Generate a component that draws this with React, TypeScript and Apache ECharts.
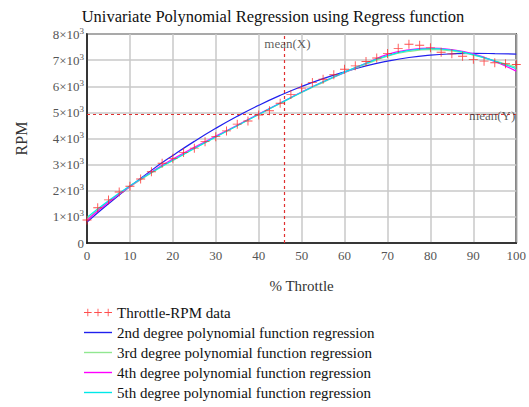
import React, { useEffect, useRef } from "react";
import * as echarts from "echarts";

const titleText = "Univariate Polynomial Regression using Regress function";
const xName = "% Throttle";
const yName = "RPM";

const dataX = [0, 2.5, 5, 7.5, 10, 12.5, 15, 17.5, 20, 22.5, 25, 27.5, 30, 32.5, 35, 37.5, 40, 42.5, 45, 47.5, 50, 52.5, 55, 57.5, 60, 62.5, 65, 67.5, 70, 72.5, 75, 77.5, 80, 82.5, 85, 87.5, 90, 92.5, 95, 97.5, 100];
const dataY = [880, 1350, 1650, 1950, 2170, 2450, 2730, 3050, 3240, 3460, 3630, 3880, 4070, 4290, 4550, 4670, 4900, 5060, 5350, 5680, 5930, 6140, 6270, 6440, 6650, 6780, 6950, 7080, 7250, 7450, 7610, 7570, 7470, 7300, 7240, 7150, 7030, 6960, 6900, 6860, 6830];

const curveX = [0, 5, 10, 15, 20, 25, 30, 35, 40, 45, 50, 55, 60, 65, 70, 75, 80, 85, 90, 95, 100];
const deg2 = [800, 1500, 2160, 2780, 3350, 3890, 4390, 4850, 5270, 5650, 5990, 6290, 6550, 6780, 6960, 7100, 7190, 7240, 7260, 7250, 7230];
const deg3 = [920, 1570, 2150, 2680, 3160, 3620, 4060, 4490, 4920, 5340, 5760, 6150, 6520, 6840, 7150, 7330, 7400, 7350, 7190, 6970, 6730];
const deg4 = [870, 1560, 2170, 2720, 3210, 3660, 4090, 4510, 4940, 5360, 5780, 6170, 6530, 6880, 7220, 7390, 7460, 7400, 7240, 6950, 6580];
const deg5 = [980, 1620, 2190, 2700, 3170, 3620, 4060, 4490, 4920, 5350, 5770, 6170, 6540, 6880, 7170, 7370, 7440, 7380, 7210, 6960, 6670];

const meanX = 46;
const meanY = 4930;

const seriesNames = [
  "Throttle-RPM data",
  "2nd degree polynomial function regression",
  "3rd degree polynomial function regression",
  "4th degree polynomial function regression",
  "5th degree polynomial function regression",
];
const colors = ["#ff2020", "#2020ee", "#90e890", "#ff00ff", "#00e8e8"];

const plus = "path://M4.5,0h1v4.5h4.5v1h-4.5v4.5h-1v-4.5h-4.5v-1h4.5z";
const plus3 =
  "path://M4,0h1v4h4v1h-4v4h-1v-4h-4v-1h4zM16,0h1v4h4v1h-4v4h-1v-4h-4v-1h4zM28,0h1v4h4v1h-4v4h-1v-4h-4v-1h4z";
const lineIcon = "path://M0,0h20v1h-20z";

const serif = "Liberation Serif";

export default function App() {
  const ref = useRef<HTMLDivElement>(null);
  useEffect(() => {
    if (!ref.current) return;
    const chart = echarts.init(ref.current, undefined, { renderer: "svg" });
    const zip = (xs: number[], ys: number[]) => xs.map((x, i) => [x, ys[i]]);
    const lineSeries = (name: string, ys: number[], color: string) => ({
      name,
      type: "line",
      data: zip(curveX, ys),
      smooth: true,
      showSymbol: false,
      symbol: "none",
      color,
      lineStyle: { color, width: 1.2 },
      itemStyle: { color },
      z: 3,
    });
    chart.setOption({
      animation: false,
      textStyle: { fontFamily: serif },
      title: {
        text: titleText,
        left: 268,
        textAlign: "center",
        top: 3,
        textStyle: { fontFamily: serif, fontSize: 16.5, fontWeight: "normal", color: "#111" },
      },
      grid: {
        left: 87,
        right: 11,
        top: 34,
        bottom: 164,
        show: true,
        borderColor: "#111",
        borderWidth: 1.5,
      },
      legend: {
        orient: "vertical",
        left: 84,
        top: 305,
        padding: 0,
        height: 110,
        itemWidth: 28,
        itemHeight: 10,
        itemGap: 5,
        textStyle: { fontFamily: serif, fontSize: 15, color: "#111", lineHeight: 15 },
        data: [
          { name: seriesNames[0], icon: plus3, itemStyle: { color: colors[0], borderWidth: 0 } },
          ...seriesNames.slice(1).map((n, i) => ({
            name: n,
            icon: lineIcon,
            itemStyle: { color: colors[i + 1], borderColor: colors[i + 1], borderWidth: 0 },
            lineStyle: { color: colors[i + 1], width: 0 },
          })),
        ],
      },
      xAxis: {
        type: "value",
        min: 0,
        max: 100,
        interval: 10,
        name: xName,
        nameLocation: "middle",
        nameGap: 35,
        nameTextStyle: { fontFamily: serif, fontSize: 15, color: "#333" },
        axisLine: { lineStyle: { color: "#111", width: 1.5 } },
        axisTick: { show: false },
        axisLabel: { fontFamily: serif, fontSize: 13, color: "#555", margin: 6 },
        splitLine: { lineStyle: { color: "#c8c8c8", width: 1.5 } },
      },
      yAxis: {
        type: "value",
        min: 0,
        max: 8000,
        interval: 1000,
        name: yName,
        nameLocation: "middle",
        nameGap: 58,
        nameTextStyle: { fontFamily: serif, fontSize: 16, color: "#333" },
        axisLine: { show: true, lineStyle: { color: "#111", width: 1.5 } },
        axisTick: { show: false },
        axisLabel: {
          fontFamily: serif,
          color: "#555",
          margin: 3,
          formatter: (v: number) => (v === 0 ? "{a|0}" : `{a|${v / 1000}×10}{s|3}`),
          rich: {
            a: { fontFamily: serif, fontSize: 13, color: "#555" },
            s: { fontFamily: serif, fontSize: 9, color: "#555", padding: [0, 0, 7, 0] },
          },
        },
        splitLine: { lineStyle: { color: "#c8c8c8", width: 1.5 } },
      },
      series: [
        {
          name: seriesNames[0],
          type: "scatter",
          data: zip(dataX, dataY),
          symbol: plus,
          symbolSize: 9,
          itemStyle: { color: colors[0] },
          z: 4,
          markLine: {
            silent: true,
            symbol: "none",
            label: { show: false },
            lineStyle: { color: "#e03030", type: [3, 3], width: 1.2 },
            data: [{ xAxis: meanX }, { yAxis: meanY }],
          },
        },
        lineSeries(seriesNames[1], deg2, colors[1]),
        lineSeries(seriesNames[2], deg3, colors[2]),
        lineSeries(seriesNames[3], deg4, colors[3]),
        lineSeries(seriesNames[4], deg5, colors[4]),
        {
          name: "meanLabels",
          type: "scatter",
          symbolSize: 0,
          silent: true,
          data: [
            { value: [meanX + 0.7, 7620], label: { formatter: "mean(X)" } },
            { value: [94.4, 4890], label: { formatter: "mean(Y)" } },
          ],
          label: {
            show: true,
            position: "inside",
            fontFamily: serif,
            fontSize: 13,
            color: "#333",
          },
          z: 5,
        },
      ],
    });
    return () => chart.dispose();
  }, []);
  return <div ref={ref} style={{ width: 529, height: 407, position: "absolute", left: 0, top: 0, background: "#fff" }} />;
}
